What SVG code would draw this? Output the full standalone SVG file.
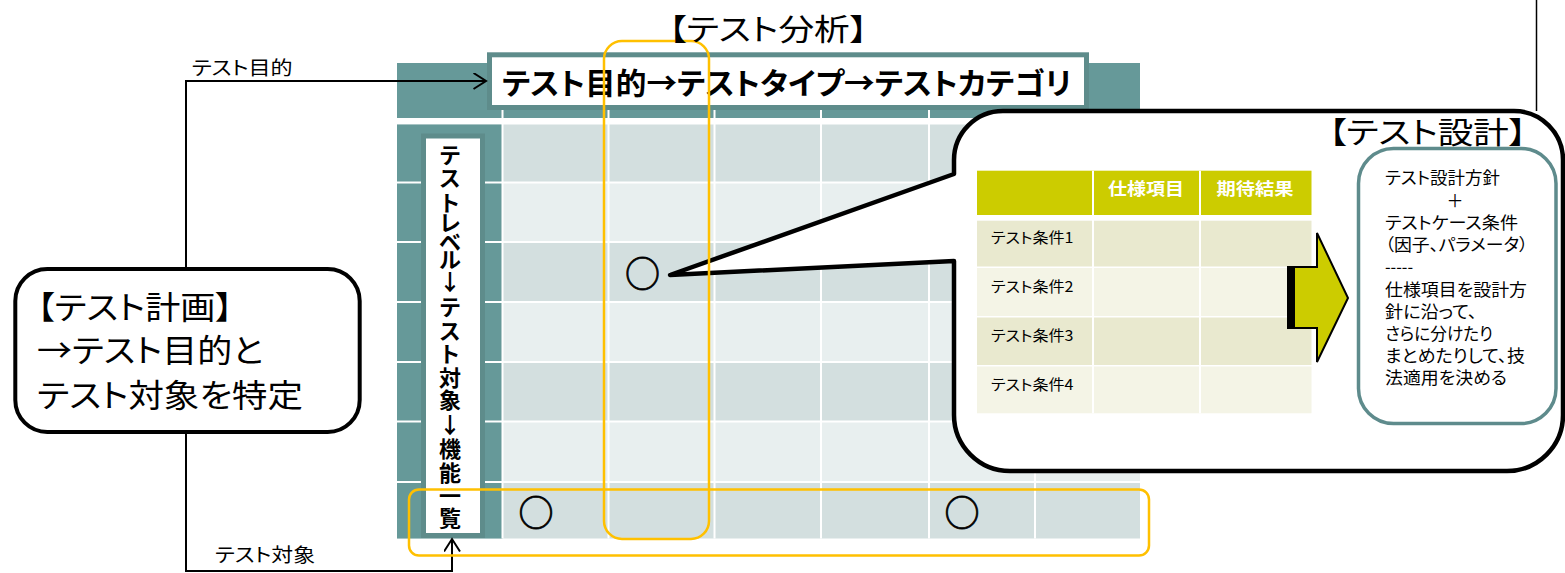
<svg xmlns="http://www.w3.org/2000/svg" width="1565" height="573" viewBox="0 0 1565 573">
<style>
text{font-family:'Noto Sans CJK JP','Liberation Sans',sans-serif;fill:#000;font-feature-settings:"palt";}
.b{font-weight:bold;}
.teal{fill:#669999;}
.dk{fill:#D3DFDF;}
.lt{fill:#E8EFEF;}
.wl{stroke:#fff;stroke-width:2;}
.tbox{fill:#fff;stroke:#5E8C8B;stroke-width:5;}
.conn{fill:none;stroke:#000;stroke-width:2;}
.yel{fill:none;stroke:#FFC000;stroke-width:2.5;}
.rowA{fill:#E9E9CF;}
.rowB{fill:#F4F4E6;}
.vt{font-size:22px;font-weight:bold;text-anchor:middle;}
.rb{font-size:17px;}
.circ{font-size:35px;text-anchor:middle;stroke:#000;stroke-width:0.8;}
</style>
<defs>
<marker id="arr" markerUnits="userSpaceOnUse" markerWidth="16" markerHeight="20" refX="13" refY="8.5" orient="auto">
<path d="M0.5,0.5 L13,8.5 L0.5,16.5" fill="none" stroke="#000" stroke-width="2"/>
</marker>
</defs>
<rect width="1565" height="573" fill="#fff"/>

<g id="grid">
<rect class="teal" x="397" y="63" width="743" height="55"/>
<rect class="dk" x="397" y="124.5" width="743" height="58"/>
<rect class="lt" x="397" y="182.5" width="743" height="59.5"/>
<rect class="dk" x="397" y="242" width="743" height="60"/>
<rect class="lt" x="397" y="302" width="743" height="60"/>
<rect class="dk" x="397" y="362" width="743" height="59.5"/>
<rect class="lt" x="397" y="421.5" width="743" height="60.5"/>
<rect class="dk" x="397" y="482" width="743" height="56.5"/>
<rect class="teal" x="397" y="124.5" width="105.5" height="414"/>
<g class="wl">
<line x1="397" y1="182.5" x2="1140" y2="182.5"/>
<line x1="397" y1="242" x2="1140" y2="242"/>
<line x1="397" y1="302" x2="1140" y2="302"/>
<line x1="397" y1="362" x2="1140" y2="362"/>
<line x1="397" y1="421.5" x2="1140" y2="421.5"/>
<line x1="397" y1="482" x2="1140" y2="482"/>
<line x1="502.5" y1="63" x2="502.5" y2="538.5"/>
<line x1="608.5" y1="63" x2="608.5" y2="538.5"/>
<line x1="714.5" y1="63" x2="714.5" y2="538.5"/>
<line x1="821" y1="63" x2="821" y2="538.5"/>
<line x1="929" y1="63" x2="929" y2="538.5"/>
<line x1="1035" y1="63" x2="1035" y2="538.5"/>
</g>
</g>

<g id="title-box">
<rect class="tbox" x="489.5" y="54.8" width="597" height="52.7"/>
<text class="b" x="502" y="94" font-size="30" textLength="569.5" lengthAdjust="spacingAndGlyphs">テスト目的→テストタイプ→テストカテゴリ</text>
</g>

<g id="label-box">
<rect class="tbox" x="423.5" y="136" width="59" height="399.5"/>
<text class="vt" x="450 450 450 450 450 450 450 450 450 450 450 450 450 450 450 450 450" y="162.5 186 211 231 250 268 290 314.5 338.5 361.5 385.5 407.5 432.5 456.5 481 503.5 526">テストレベル↓テスト対象↓機能一覧</text>
</g>

<g id="plan-box">
<rect x="15.3" y="269" width="344.4" height="163" rx="32" fill="#fff" stroke="#000" stroke-width="4"/>
<text x="37" y="319" font-size="32" textLength="196" lengthAdjust="spacingAndGlyphs">【テスト計画】</text>
<text x="37" y="362" font-size="32" textLength="226" lengthAdjust="spacingAndGlyphs">→テスト目的と</text>
<text x="37" y="407" font-size="32" textLength="266" lengthAdjust="spacingAndGlyphs">テスト対象を特定</text>
</g>

<g id="connectors">
<polyline class="conn" points="186,267 186,81 486,81" marker-end="url(#arr)"/>
<polyline class="conn" points="186,434 186,571 452,571 452,539" marker-end="url(#arr)"/>
<text x="191.7" y="75" font-size="19" textLength="101" lengthAdjust="spacingAndGlyphs">テスト目的</text>
<text x="215" y="562" font-size="19" textLength="100" lengthAdjust="spacingAndGlyphs">テスト対象</text>
<line x1="1536.5" y1="0" x2="1536.5" y2="111" stroke="#000" stroke-width="1.5"/>
</g>

<g id="design-callout">
<path d="M954,174 L954,160 A49,49 0 0 1 1003,111 L1514,111 A49,49 0 0 1 1563,160 L1563,415 A56,56 0 0 1 1507,471 L1010,471 A56,56 0 0 1 954,415 L954,261 L670,275 Z" fill="#fff" stroke="#000" stroke-width="4.5" stroke-linejoin="round"/>
<text x="1328.6" y="143" font-size="30" textLength="198" lengthAdjust="spacingAndGlyphs">【テスト設計】</text>
</g>

<g id="design-table">
<rect x="977" y="170.7" width="334.5" height="44.3" fill="#CCCC00"/>
<rect class="rowA" x="977" y="220.7" width="334.5" height="45.8"/>
<rect class="rowB" x="977" y="268" width="334.5" height="48"/>
<rect class="rowA" x="977" y="317.5" width="334.5" height="47.5"/>
<rect class="rowB" x="977" y="366.5" width="334.5" height="46.8"/>
<line class="wl" x1="1093" y1="170.7" x2="1093" y2="413.3"/>
<line class="wl" x1="1200" y1="170.7" x2="1200" y2="413.3"/>
<text class="b" x="1146" y="195" font-size="17" style="fill:#fff" text-anchor="middle" textLength="76" lengthAdjust="spacingAndGlyphs">仕様項目</text>
<text class="b" x="1255" y="195" font-size="17" style="fill:#fff" text-anchor="middle" textLength="77" lengthAdjust="spacingAndGlyphs">期待結果</text>
<text x="991" y="243" font-size="15" textLength="82.5" lengthAdjust="spacingAndGlyphs">テスト条件1</text>
<text x="991" y="291.5" font-size="15" textLength="82.5" lengthAdjust="spacingAndGlyphs">テスト条件2</text>
<text x="991" y="340.5" font-size="15" textLength="82.5" lengthAdjust="spacingAndGlyphs">テスト条件3</text>
<text x="991" y="389.5" font-size="15" textLength="82.5" lengthAdjust="spacingAndGlyphs">テスト条件4</text>
</g>

<g id="design-arrow">
<path d="M1290,267 L1317,267 L1317,233 L1348,298 L1317,362 L1317,328 L1290,328 Z" fill="#CCCC00" stroke="#000" stroke-width="2" stroke-linejoin="miter"/>
<rect x="1287" y="266" width="8" height="63" fill="#000"/>
</g>

<g id="design-note">
<rect x="1358.5" y="148.5" width="197.5" height="275" rx="35" fill="#fff" stroke="#5E8B8C" stroke-width="3.5"/>
<text class="rb" x="1385" y="184" textLength="115" lengthAdjust="spacingAndGlyphs">テスト設計方針</text>
<text class="rb" x="1455" y="206.5" text-anchor="middle">＋</text>
<text class="rb" x="1385" y="228.5" textLength="133" lengthAdjust="spacingAndGlyphs">テストケース条件</text>
<text class="rb" x="1385" y="250.5" textLength="143" lengthAdjust="spacingAndGlyphs">（因子、パラメータ）</text>
<text class="rb" x="1385" y="273" textLength="28" lengthAdjust="spacingAndGlyphs">-----</text>
<text class="rb" x="1385" y="296" textLength="142" lengthAdjust="spacingAndGlyphs">仕様項目を設計方</text>
<text class="rb" x="1385" y="318" textLength="92" lengthAdjust="spacingAndGlyphs">針に沿って、</text>
<text class="rb" x="1385" y="340" textLength="108" lengthAdjust="spacingAndGlyphs">さらに分けたり</text>
<text class="rb" x="1385" y="362" textLength="140" lengthAdjust="spacingAndGlyphs">まとめたりして、技</text>
<text class="rb" x="1385" y="384" textLength="122" lengthAdjust="spacingAndGlyphs">法適用を決める</text>
</g>

<g id="highlights">
<rect class="yel" x="604" y="41" width="105" height="498" rx="18"/>
<rect class="yel" x="409" y="489.5" width="740" height="66" rx="10"/>
</g>

<g id="marks">
<text class="circ" x="642.5" y="287">○</text>
<text class="circ" x="536" y="526">○</text>
<text class="circ" x="962" y="526">○</text>
</g>

<g id="analysis-heading">
<text x="668.6" y="40" font-size="30" textLength="199" lengthAdjust="spacingAndGlyphs">【テスト分析】</text>
</g>
</svg>
